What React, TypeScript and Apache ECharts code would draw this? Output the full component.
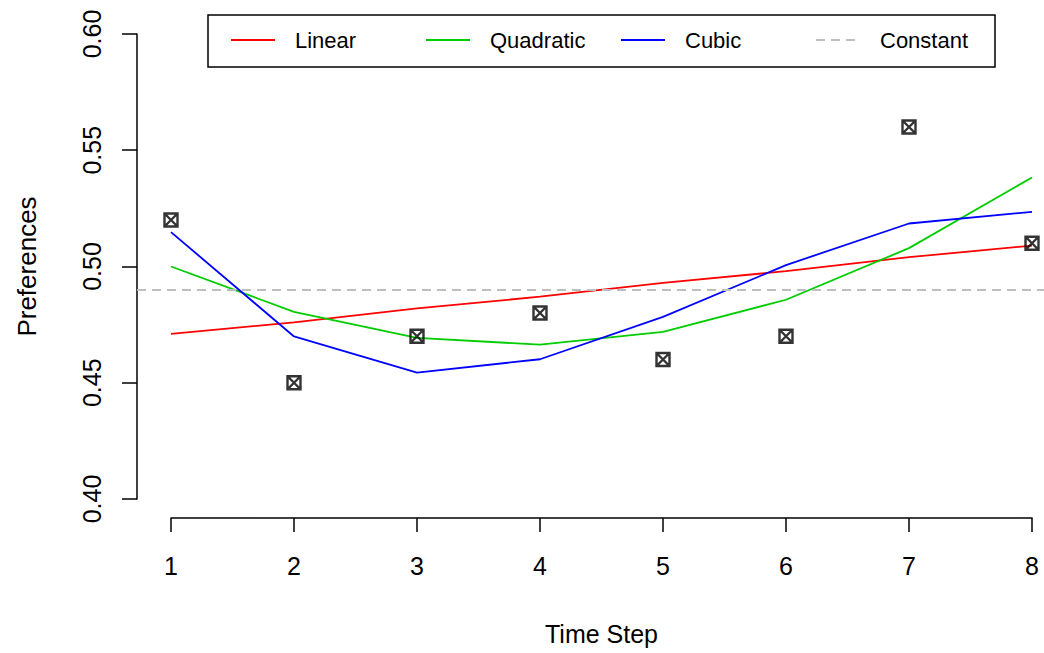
import React, { useEffect, useRef } from "react";
import * as echarts from "echarts";

const timeSteps = [1, 2, 3, 4, 5, 6, 7, 8];
const observed = [0.52, 0.45, 0.47, 0.48, 0.46, 0.47, 0.56, 0.51];
const linearFit = [0.471, 0.476, 0.482, 0.487, 0.493, 0.498, 0.504, 0.509];
const quadraticFit = [0.5, 0.4805, 0.4693, 0.4664, 0.4719, 0.4857, 0.5079, 0.5383];
const cubicFit = [0.5148, 0.4699, 0.4544, 0.4601, 0.4783, 0.5006, 0.5185, 0.5235];
const constantLevel = 0.49;
const seriesNames = ["Linear", "Quadratic", "Cubic", "Constant"];
const yMin = 0.4;
const yMax = 0.6;
const yStep = 0.05;

const FONT = "'Liberation Sans', Arial, sans-serif";

const pairs = (ys: number[]) => timeSteps.map((x, i) => [x, ys[i]]);

export default function App() {
  const ref = useRef<HTMLDivElement>(null);
  useEffect(() => {
    if (!ref.current) return;
    const chart = echarts.init(ref.current, undefined, { renderer: "svg" });
    const lineSeries = (name: string, data: number[], color: string) => ({
      type: "line",
      name,
      data: pairs(data),
      symbol: "none",
      showSymbol: false,
      clip: false,
      lineStyle: { color, width: 1.8 },
      itemStyle: { color },
      z: 3,
    });
    const legends = seriesNames.map((name, i) => ({
      data: [name],
      left: 230 + i * 195,
      top: 29,
      padding: 0,
      itemWidth: 44,
      itemHeight: 14,
      itemStyle: { opacity: 0 },
      textStyle: {
        fontFamily: FONT,
        fontSize: 22,
        color: "#000",
        padding: [0, 0, 0, 15],
      },
    }));
    chart.setOption({
      animation: false,
      backgroundColor: "#ffffff",
      textStyle: { fontFamily: FONT },
      graphic: [
        {
          type: "rect",
          shape: { x: 208, y: 15, width: 787, height: 52 },
          style: { fill: "none", stroke: "#000", lineWidth: 1.5 },
          silent: true,
        },
      ],
      grid: [
        { left: 171, top: 34, width: 861, height: 465, containLabel: false },
        { left: 137, top: 34, width: 929, height: 465, containLabel: false },
      ],
      legend: legends,
      xAxis: [
        {
          type: "value",
          gridIndex: 0,
          min: 1,
          max: 8,
          interval: 1,
          offset: 19,
          name: "Time Step",
          nameLocation: "middle",
          nameGap: 103,
          nameTextStyle: { fontFamily: FONT, fontSize: 25, color: "#000" },
          axisLine: { show: true, lineStyle: { color: "#000", width: 1.5 } },
          axisTick: { show: true, length: 14, lineStyle: { color: "#000", width: 1.5 } },
          axisLabel: { fontFamily: FONT, fontSize: 25, color: "#000", margin: 35 },
          splitLine: { show: false },
        },
        { type: "value", gridIndex: 1, min: 0, max: 1, show: false },
      ],
      yAxis: [
        {
          type: "value",
          gridIndex: 0,
          min: yMin,
          max: yMax,
          interval: yStep,
          offset: 34,
          name: "Preferences",
          nameLocation: "middle",
          nameGap: 97,
          nameTextStyle: { fontFamily: FONT, fontSize: 26, color: "#000" },
          axisLine: { show: true, lineStyle: { color: "#000", width: 1.5 } },
          axisTick: { show: true, length: 15, lineStyle: { color: "#000", width: 1.5 } },
          axisLabel: {
            fontFamily: FONT,
            fontSize: 25,
            color: "#000",
            rotate: 90,
            margin: 33,
            formatter: (v: number) => v.toFixed(2),
          },
          splitLine: { show: false },
        },
        { type: "value", gridIndex: 1, min: yMin, max: yMax, show: false },
      ],
      series: [
        lineSeries(seriesNames[0], linearFit, "#ff0000"),
        lineSeries(seriesNames[1], quadraticFit, "#00cd00"),
        lineSeries(seriesNames[2], cubicFit, "#0000ff"),
        {
          type: "line",
          name: seriesNames[3],
          xAxisIndex: 1,
          yAxisIndex: 1,
          data: [],
          symbol: "none",
          lineStyle: { color: "#bebebe", width: 1.8, type: [9, 6] },
          itemStyle: { color: "#bebebe" },
          markLine: {
            silent: true,
            symbol: "none",
            label: { show: false },
            lineStyle: { color: "#bebebe", width: 1.8, type: [9, 6] },
            data: [{ yAxis: constantLevel }],
          },
          z: 1,
        },
        {
          type: "scatter",
          name: "Observed",
          data: pairs(observed),
          symbol: "path://M0 0H10V10H0Z M0 0L10 10 M10 0L0 10",
          symbolSize: 13,
          clip: false,
          itemStyle: { color: "rgba(0,0,0,0)", borderColor: "#000", borderWidth: 2.4 },
          z: 5,
        },
      ],
    });
    return () => chart.dispose();
  }, []);
  return (
    <div
      ref={ref}
      style={{ position: "fixed", left: 0, top: 0, width: 1044, height: 653, background: "#fff" }}
    />
  );
}
